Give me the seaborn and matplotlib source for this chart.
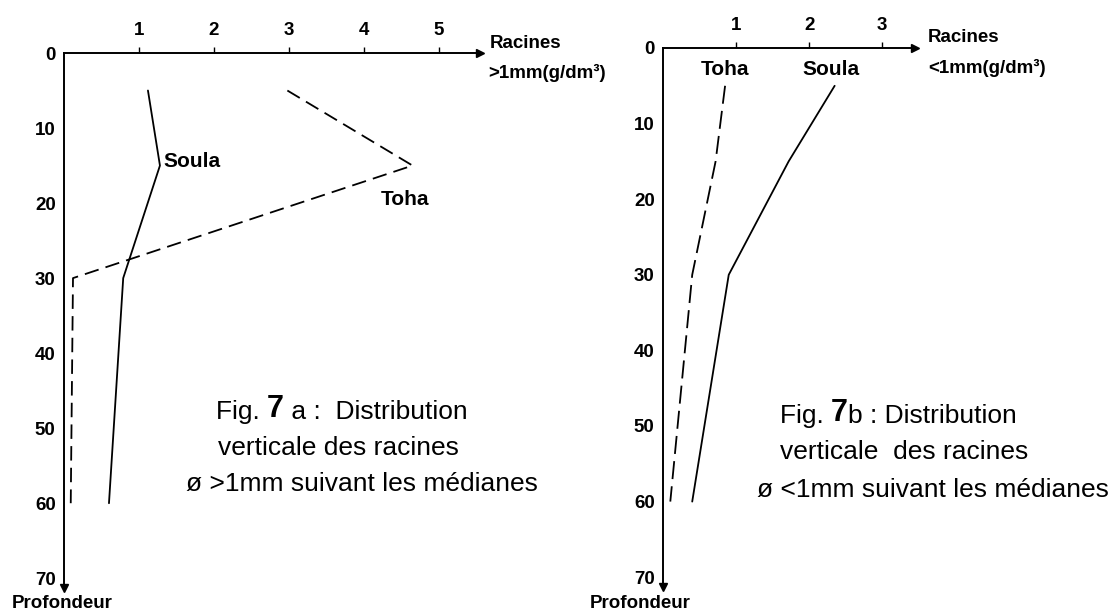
import seaborn as sns
import pandas as pd
import matplotlib.pyplot as plt

# profondeur (cm)
depth = [5, 15, 30, 60]

# Fig 7a : racines > 1mm (g/dm3)
soula_gros = [1.12, 1.28, 0.79, 0.60]
toha_gros = [2.98, 4.65, 0.12, 0.09]

# Fig 7b : racines < 1mm (g/dm3)
soula_fin = [2.35, 1.72, 0.90, 0.40]
toha_fin = [0.85, 0.72, 0.40, 0.10]

yticks = [0, 10, 20, 30, 40, 50, 60, 70]
xticks_a = [1, 2, 3, 4, 5]
xticks_b = [1, 2, 3]

sns.set_style("white")
plt.rcParams['font.family'] = ['Liberation Sans', 'DejaVu Sans']
plt.rcParams['text.color'] = 'black'

W, H = 1116, 613
fig = plt.figure(figsize=(W / 100, H / 100), dpi=100)


def px(x, y):
    return x / W, 1 - y / H


def make_ax(x0, x1, y0, y1, xmax, xt):
    ax = fig.add_axes([x0 / W, 1 - y1 / H, (x1 - x0) / W, (y1 - y0) / H])
    ax.set_xlim(0, xmax)
    ax.set_ylim(71.3, 0)
    ax.xaxis.tick_top()
    ax.set_xticks(xt)
    ax.set_yticks(yticks)
    ax.tick_params(axis='both', direction='out', length=4, width=1,
                   labelsize=13.5, colors='black')
    ax.tick_params(axis='x', pad=6)
    ax.tick_params(axis='y', pad=2)
    for lab in ax.get_xticklabels() + ax.get_yticklabels():
        lab.set_fontweight('bold')
    for s in ['right', 'bottom']:
        ax.spines[s].set_visible(False)
    for s in ['top', 'left']:
        ax.spines[s].set_color('black')
        ax.spines[s].set_linewidth(1.4)
    ax.plot(1, 1, marker='>', color='black', markersize=6,
            transform=ax.transAxes, clip_on=False)
    ax.plot(0, 0, marker='v', color='black', markersize=6,
            transform=ax.transAxes, clip_on=False)
    ax.set_xlabel('')
    ax.set_ylabel('')
    ax.patch.set_alpha(0)
    return ax


# --- Fig 7a
ax1 = make_ax(64, 480, 53, 588, 5.55, xticks_a)
sns.lineplot(x=soula_gros, y=depth, sort=False, estimator=None, ax=ax1,
             color='black', linewidth=1.3)
sns.lineplot(x=toha_gros, y=depth, sort=False, estimator=None, ax=ax1,
             color='black', linewidth=1.3, linestyle=(0, (8, 4)))
ax1.text(1.33, 14.5, 'Soula', fontsize=15, fontweight='bold', va='center')
ax1.text(4.22, 19.5, 'Toha', fontsize=15, fontweight='bold', va='center')

# --- Fig 7b
ax2 = make_ax(663, 915, 48, 587, 3.45, xticks_b)
sns.lineplot(x=soula_fin, y=depth, sort=False, estimator=None, ax=ax2,
             color='black', linewidth=1.3)
sns.lineplot(x=toha_fin, y=depth, sort=False, estimator=None, ax=ax2,
             color='black', linewidth=1.3, linestyle=(0, (10, 4)))
ax2.text(0.85, 2.8, 'Toha', fontsize=15, fontweight='bold', ha='center', va='center')
ax2.text(2.3, 2.8, 'Soula', fontsize=15, fontweight='bold', ha='center', va='center')

# axis titles
lab = dict(fontsize=13.5, fontweight='bold', va='center')
fig.text(*px(490, 44), 'Racines', **lab)
fig.text(*px(488, 73), '>1mm(g/dm³)', **lab)
fig.text(*px(928, 38), 'Racines', **lab)
fig.text(*px(928, 68), '<1mm(g/dm³)', **lab)
fig.text(*px(62, 603), 'Profondeur', ha='center', **lab)
fig.text(*px(640, 603), 'Profondeur', ha='center', **lab)


# captions
def caption(x, y, fig_no, rest, lines):
    t1 = fig.text(*px(x, y), 'Fig. ', fontsize=19, va='bottom')
    t2 = plt.annotate(fig_no, xy=(1, 0), xycoords=t1, fontsize=22,
                      fontweight='bold', va='bottom', annotation_clip=False)
    plt.annotate(rest, xy=(1, 0), xycoords=t2, fontsize=19, va='bottom',
                 annotation_clip=False)
    for (lx, ly, s) in lines:
        fig.text(*px(lx, ly), s, fontsize=19, va='center')


caption(216, 424, '7', ' a :  Distribution',
        [(218, 448, 'verticale des racines'),
         (186, 484, 'ø >1mm suivant les médianes')])
caption(780, 428, '7', 'b : Distribution',
        [(780, 452, 'verticale  des racines'),
         (757, 490, 'ø <1mm suivant les médianes')])

fig.savefig('out.png', dpi=100)
